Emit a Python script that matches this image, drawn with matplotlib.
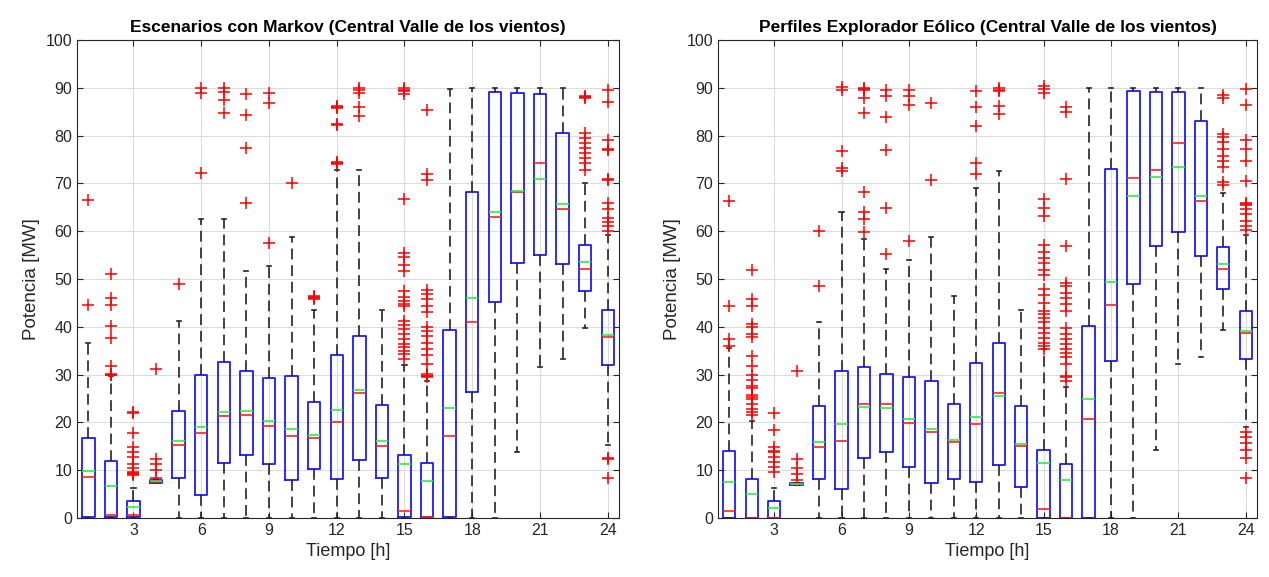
import matplotlib
matplotlib.use("Agg")
import matplotlib.pyplot as plt

plt.rcParams['font.family'] = ['Liberation Sans', 'DejaVu Sans']

# --- Datos: Escenarios con Markov ---
L_q1 = [0.2, 0.2, 0.2, 7.4, 8.4, 4.9, 11.6, 13.2, 11.3, 7.9, 10.2, 8.1,
        12.2, 8.4, 0.3, 0.2, 0.3, 26.4, 45.1, 53.4, 55.0, 53.1, 47.5, 32.1]
L_med = [8.6, 0.6, 0.6, 7.6, 15.3, 17.8, 21.3, 21.6, 19.2, 17.1, 16.7, 20.0,
         26.2, 15.0, 1.5, 0.3, 17.1, 41.1, 63.0, 68.1, 74.2, 64.6, 52.1, 37.9]
L_q3 = [16.8, 11.9, 3.5, 7.9, 22.3, 30.0, 32.6, 30.7, 29.3, 29.6, 24.2, 34.0,
        38.1, 23.7, 13.2, 11.6, 39.4, 68.3, 89.1, 88.9, 88.6, 80.6, 57.1, 43.5]
L_mean = [9.8, 6.6, 2.3, 7.7, 16.0, 19.1, 22.1, 22.3, 20.2, 18.7, 17.3, 22.5,
          26.8, 16.1, 11.2, 7.7, 23.0, 46.0, 64.1, 68.4, 71.0, 65.6, 53.6, 38.3]
L_wlo = [0, 0, 0, 7.3, 0, 0, 0, 0, 0, 0, 0, 0,
         0, 0, 0, 0, 0, 0, 0, 13.8, 31.5, 33.3, 39.7, 15.3]
L_whi = [36.6, 29.8, 6.3, 8.1, 41.3, 62.5, 62.5, 51.7, 52.7, 58.8, 43.6, 72.9,
         72.8, 43.6, 32.0, 28.7, 89.8, 90, 90, 90, 90, 90, 70.1, 59.2]
L_out = [
    [44.6, 66.5],
    [29.9, 30.0, 30.2, 31.7, 37.6, 40.2, 44.6, 46.1, 51.1],
    [9.0, 9.2, 9.4, 9.6, 10.4, 11.3, 12.7, 13.8, 14.8, 17.7, 21.9, 22.1],
    [8.3, 10.0, 11.3, 12.4, 31.2],
    [48.9],
    [72.2, 89.0, 90.0],
    [84.8, 87.5, 89.2, 90.0],
    [65.8, 77.5, 84.4, 88.8],
    [57.5, 86.8, 88.9],
    [70.1],
    [45.8, 46.0, 46.2, 46.4],
    [74.0, 74.2, 74.4, 82.3, 82.5, 85.7, 85.9, 86.1],
    [84.1, 85.9, 88.9, 89.5, 90.0],
    [],
    [33.3, 34.3, 35.0, 35.7, 36.4, 37.4, 38.5, 39.5, 40.4, 41.3, 44.4, 44.7,
     45.4, 46.3, 47.5, 51.7, 52.9, 54.5, 55.5, 66.8, 88.8, 89.3, 89.6, 90.0],
    [29.4, 29.6, 29.8, 30.1, 32.2, 34.0, 35.4, 36.7, 38.1, 39.2, 39.9, 43.0,
     44.4, 45.8, 46.8, 47.7, 70.8, 71.9, 85.3],
    [], [], [], [], [], [],
    [72.9, 74.3, 75.4, 76.4, 77.5, 78.5, 79.5, 80.6, 87.8, 88.0, 88.2],
    [8.4, 12.4, 12.6, 60.1, 61.1, 62.0, 62.7, 64.6, 66.0, 70.8, 71.0, 76.9,
     77.1, 79.0, 87.0, 89.5],
]

# --- Datos: Perfiles Explorador Eólico ---
R_q1 = [0, 0, 0, 7.0, 8.2, 6.1, 12.5, 13.9, 10.6, 7.3, 8.2, 7.6,
        11.1, 6.4, 0, 0, 0, 32.8, 49.0, 57.0, 59.8, 54.8, 47.8, 33.2]
R_med = [1.5, 0, 0, 7.1, 14.9, 16.1, 23.8, 23.8, 19.9, 17.9, 15.8, 19.7,
         26.2, 15.1, 1.9, 0, 20.8, 44.5, 71.1, 72.9, 78.5, 66.3, 52.1, 38.6]
R_q3 = [14.0, 8.2, 3.5, 7.3, 23.4, 30.8, 31.6, 30.2, 29.4, 28.6, 23.8, 32.5,
        36.6, 23.4, 14.2, 11.2, 40.2, 73.1, 89.3, 89.1, 89.1, 83.0, 56.6, 43.4]
R_mean = [7.6, 5.1, 2.1, 7.2, 15.8, 19.6, 23.3, 23.1, 20.7, 18.6, 16.3, 21.2,
          25.5, 15.4, 11.4, 8.0, 24.9, 49.4, 67.4, 71.3, 73.4, 67.4, 53.2, 39.1]
R_wlo = [0, 0, 0, 6.9, 0, 0, 0, 0, 0, 0, 0, 0,
         0, 0, 0, 0, 0, 0, 0, 14.3, 32.3, 33.6, 39.3, 19.0]
R_whi = [35.6, 20.3, 6.3, 7.4, 41.0, 64.0, 58.3, 52.1, 54.0, 58.7, 46.4, 69.1,
         72.5, 43.6, 35.3, 27.4, 90, 90, 90, 90, 90, 90, 67.9, 59.2]
R_out = [
    [36.0, 37.5, 44.4, 66.3],
    [21.5, 22.2, 22.9, 23.8, 24.8, 25.3, 25.8, 27.1, 27.6, 28.8, 29.9, 31.8,
     33.9, 37.8, 38.5, 39.9, 40.6, 44.4, 45.8, 51.9],
    [9.7, 10.6, 11.7, 12.8, 13.7, 14.0, 14.9, 18.4, 21.9],
    [8.0, 9.2, 10.4, 12.4, 30.7],
    [48.5, 60.1],
    [72.6, 73.3, 76.7, 89.6, 90.1],
    [59.9, 62.5, 64.0, 68.1, 84.7, 87.8, 89.5, 89.7, 89.9],
    [55.2, 64.9, 76.9, 83.8, 88.3, 89.6],
    [58.0, 86.5, 88.2, 89.6],
    [70.7, 86.8],
    [],
    [71.9, 74.3, 82.1, 85.9, 89.4],
    [84.5, 86.2, 89.3, 89.6, 90.0],
    [],
    [35.3, 36.0, 36.7, 37.7, 38.8, 39.8, 40.9, 41.9, 42.6, 43.3, 45.0, 46.7,
     47.8, 50.9, 51.9, 53.3, 54.4, 55.7, 57.1, 63.2, 64.9, 66.7, 89.0, 89.7, 90.4],
    [28.7, 29.4, 29.8, 32.3, 33.6, 34.6, 35.3, 36.4, 37.4, 38.4, 39.7, 43.3,
     44.7, 46.1, 47.1, 48.5, 49.2, 56.8, 71.0, 85.0, 85.9],
    [], [], [], [], [], [],
    [69.6, 70.3, 73.4, 74.6, 75.8, 77.1, 78.6, 79.6, 80.3, 87.9, 88.4],
    [8.3, 12.5, 14.2, 15.6, 17.0, 18.0, 60.2, 61.1, 62.1, 63.5, 64.6, 65.4,
     65.6, 65.8, 70.6, 74.6, 77.2, 79.0, 86.4, 89.8],
]

HOURS = list(range(1, 25))
XTICKS = [3, 6, 9, 12, 15, 18, 21, 24]
YTICKS = list(range(0, 101, 10))

TITLES = ["Escenarios con Markov (Central Valle de los vientos)",
          "Perfiles Explorador Eólico (Central Valle de los vientos)"]

GRIS = '#262626'


def build_stats(q1, med, q3, mean, wlo, whi, out):
    stats = []
    for i in range(len(q1)):
        stats.append({'q1': q1[i], 'med': med[i], 'q3': q3[i], 'mean': mean[i],
                      'whislo': wlo[i], 'whishi': whi[i], 'fliers': out[i]})
    return stats


def draw_panel(ax, stats, title):
    ax.bxp(stats, positions=HOURS, widths=0.55, capwidths=0.18,
           showmeans=True, meanline=True, showfliers=True,
           boxprops=dict(color='#1a1aff', linewidth=1.3),
           medianprops=dict(color='#ff2020', linewidth=1.2),
           meanprops=dict(color='#33ee33', linestyle='-', linewidth=1.2),
           whiskerprops=dict(color='#222222', linestyle=(0, (6.5, 3.5)), linewidth=1.2),
           capprops=dict(color='#222222', linewidth=1.2),
           flierprops=dict(marker='+', markeredgecolor='red', markersize=8,
                           markeredgewidth=1.1, linestyle='none'))
    ax.set_xlim(0.5, 24.5)
    ax.set_ylim(0, 100)
    ax.set_xticks(XTICKS)
    ax.set_xticklabels([str(t) for t in XTICKS])
    ax.set_yticks(YTICKS)
    ax.grid(True, color='#dcdcdc', linewidth=0.8)
    ax.set_axisbelow(True)
    ax.tick_params(direction='in', length=4, colors=GRIS, labelsize=11.5,
                   top=True, right=True, labelcolor=GRIS)
    for s in ax.spines.values():
        s.set_color(GRIS)
        s.set_linewidth(0.8)
    ax.set_title(title, fontsize=12.5, fontweight='bold', color='black', pad=6)
    ax.set_xlabel("Tiempo [h]", fontsize=13, color=GRIS)
    ax.set_ylabel("Potencia [MW]", fontsize=13.5, color=GRIS)


fig = plt.figure(figsize=(12.69, 5.77), dpi=100)
ax1 = fig.add_axes([0.0607, 0.1023, 0.4271, 0.8284])
ax2 = fig.add_axes([0.5658, 0.1023, 0.4247, 0.8284])

draw_panel(ax1, build_stats(L_q1, L_med, L_q3, L_mean, L_wlo, L_whi, L_out), TITLES[0])
draw_panel(ax2, build_stats(R_q1, R_med, R_q3, R_mean, R_wlo, R_whi, R_out), TITLES[1])

fig.savefig("out.png", dpi=100)
